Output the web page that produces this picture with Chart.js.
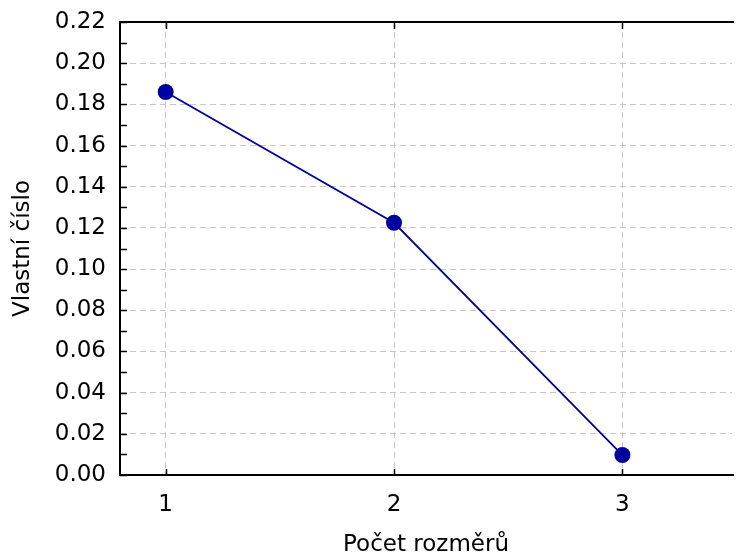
<!DOCTYPE html>
<html>
<head>
<meta charset="utf-8">
<script src="https://cdn.jsdelivr.net/npm/chart.js@4/dist/chart.umd.min.js"></script>
<style>
  html, body { margin: 0; padding: 0; background: #fff; }
</style>
</head>
<body>
<canvas id="screeChart" width="740" height="559"></canvas>
<script>
// data
const dimensions = [1, 2, 3];
const eigenvalues = [0.186, 0.1225, 0.0097];
const xTicks = [1, 2, 3];
const yTicks = [0.00, 0.02, 0.04, 0.06, 0.08, 0.10, 0.12, 0.14, 0.16, 0.18, 0.20, 0.22];
const yMinorTicks = [0.01, 0.03, 0.05, 0.07, 0.09, 0.11, 0.13, 0.15, 0.17, 0.19, 0.21];

const fontFamily = '"DejaVu Sans", "Liberation Sans", Arial, sans-serif';
const lineColor = '#0000a0';

// frame + inward tick marks (like the Statistica style plot)
const framePlugin = {
    id: 'frame',
    afterDraw(chart) {
        const { ctx, chartArea } = chart;
        const xs = chart.scales.x, ys = chart.scales.y;
        ctx.save();
        ctx.strokeStyle = '#000';
        ctx.lineWidth = 2;
        ctx.beginPath();
        ctx.moveTo(chartArea.left, chartArea.bottom);
        ctx.lineTo(chartArea.left, chartArea.top);
        ctx.lineTo(chartArea.right + 2, chartArea.top);
        ctx.moveTo(chartArea.left - 1, chartArea.bottom);
        ctx.lineTo(chartArea.right + 2, chartArea.bottom);
        ctx.stroke();

        ctx.lineWidth = 1.5;
        ctx.beginPath();
        yTicks.concat(yMinorTicks).forEach(v => {
            const py = Math.round(ys.getPixelForValue(v)) + 0.5;
            ctx.moveTo(chartArea.left, py);
            ctx.lineTo(chartArea.left + 7, py);
        });
        xTicks.forEach(v => {
            const px = Math.round(xs.getPixelForValue(v)) + 0.5;
            ctx.moveTo(px, chartArea.bottom);
            ctx.lineTo(px, chartArea.bottom - 6);
            ctx.moveTo(px, chartArea.top);
            ctx.lineTo(px, chartArea.top + 7);
        });
        ctx.stroke();
        ctx.restore();
    }
};

const ctx = document.getElementById('screeChart').getContext('2d');
const chart = new Chart(ctx, {
    type: 'line',
    data: {
        datasets: [{
            data: dimensions.map((d, i) => ({ x: d, y: eigenvalues[i] })),
            borderColor: lineColor,
            backgroundColor: lineColor,
            borderWidth: 1.8,
            pointRadius: 8,
            pointBorderWidth: 0,
            pointBackgroundColor: lineColor,
            tension: 0,
            clip: false
        }]
    },
    options: {
        responsive: false,
        animation: false,
        layout: { padding: { top: 22, right: 0, left: 0, bottom: 0 } },
        plugins: {
            legend: { display: false },
            tooltip: { enabled: false }
        },
        scales: {
            x: {
                type: 'linear',
                min: 0.8,
                max: 3.48,
                afterBuildTicks: (scale) => { scale.ticks = xTicks.map(v => ({ value: v })); },
                afterFit: (scale) => { scale.height = 84; },
                ticks: {
                    color: '#000',
                    padding: 16,
                    font: { family: fontFamily, size: 23 },
                    callback: (v) => String(v)
                },
                grid: { color: '#c8c8c8', lineWidth: 1, drawTicks: false },
                border: { display: false, dash: [6, 4] },
                title: {
                    display: true,
                    text: 'Počet rozměrů',
                    color: '#000',
                    font: { family: fontFamily, size: 23 },
                    padding: { top: 0, bottom: 0 }
                }
            },
            y: {
                min: 0,
                max: 0.22,
                afterBuildTicks: (scale) => {
                    scale.ticks = yTicks.concat(yMinorTicks).sort((a, b) => a - b).map(v => ({ value: v }));
                },
                afterFit: (scale) => {
                    scale.width = 120;
                    // let the top label hang above the plot, like the original
                    scale.paddingTop = 0;
                    scale.paddingBottom = 0;
                },
                ticks: {
                    color: '#000',
                    padding: 14,
                    font: { family: fontFamily, size: 23 },
                    autoSkip: false,
                    callback: (v) => yTicks.some(t => Math.abs(t - v) < 1e-9) ? v.toFixed(2) : ''
                },
                grid: {
                    drawTicks: false,
                    lineWidth: 1,
                    color: (c) => {
                        const v = c.tick ? c.tick.value : null;
                        return yTicks.some(t => Math.abs(t - v) < 1e-9) ? '#c8c8c8' : 'rgba(0,0,0,0)';
                    }
                },
                border: { display: false, dash: [6, 4] },
                title: {
                    display: true,
                    text: 'Vlastní číslo',
                    color: '#000',
                    font: { family: fontFamily, size: 23 },
                    padding: { top: 9, bottom: 0 }
                }
            }
        }
    },
    plugins: [framePlugin]
});
</script>
</body>
</html>
